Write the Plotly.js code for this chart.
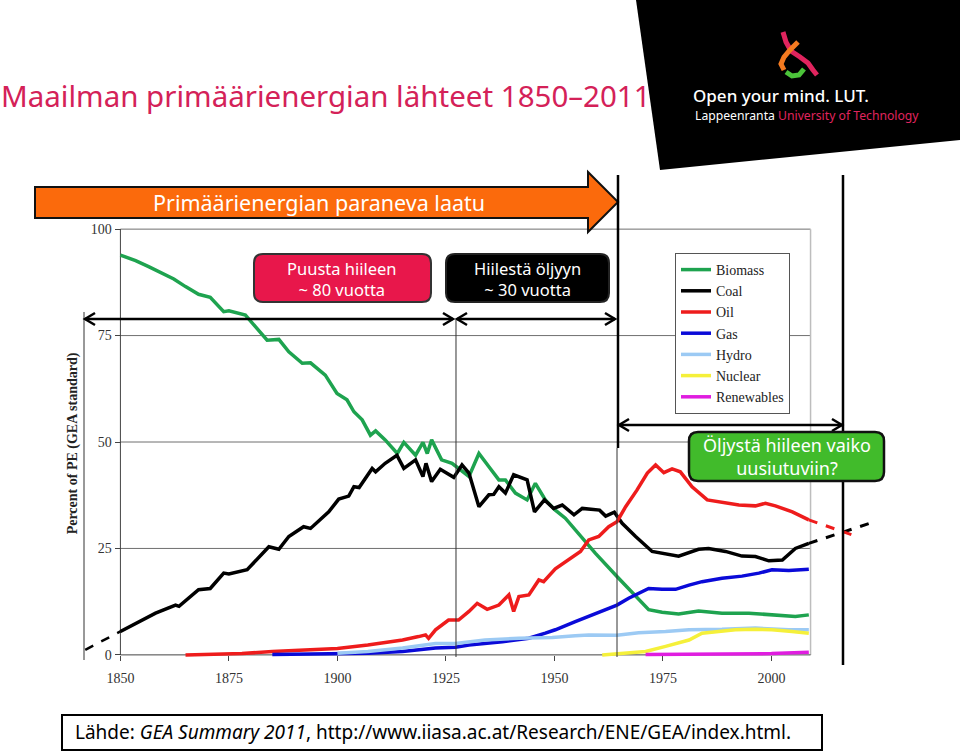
<!DOCTYPE html>
<html><head><meta charset="utf-8">
<script src="https://cdn.plot.ly/plotly-3.0.1.min.js"></script>
<style>html,body{margin:0;padding:0;background:#fff}#chart{width:960px;height:752px}</style>
</head><body><div id="chart"></div>
<script>
// ---------- DATA ----------
const seriesNames = ['Biomass','Coal','Oil','Gas','Hydro','Nuclear','Renewables'];
const seriesColors = ['#1ea34f','#000000','#ee1c1c','#0a0ad8','#9ccaf4','#f5f03a','#e01de0'];

const biomassYears = [1850,1853.5,1856.5,1859.6,1862.3,1865,1868,1870.7,1873.8,1875,1878.8,1881.1,1883.8,1886.5,1888.8,1891.9,1893.8,1897.2,1899.9,1902.2,1903.8,1905.7,1907.6,1908.8,1911,1913.8,1915.3,1918,1919.7,1920.7,1921.7,1924,1926.4,1930.3,1932.6,1934.9,1937.2,1938.7,1941,1943.7,1945.6,1947.9,1950.2,1952.5,1954.8,1959.4,1964.4,1968.7,1971.7,1974.8,1978.6,1983.2,1988.6,1994.8,2000.1,2005.5,2008.6];
const biomassPct = [93.9,92.6,91.2,89.6,88.3,86.5,84.7,84.0,80.6,80.8,79.8,77.1,73.9,74.1,71.2,68.5,68.6,65.7,61.4,59.9,57.1,55.2,51.6,52.6,50.5,47.3,49.9,46.9,49.9,47.3,50.5,45.8,45.0,41.9,47.3,44.2,41.1,41.1,38.0,36.4,40.3,36.4,34.0,32.1,29.3,23.9,18.4,13.7,10.6,10.0,9.6,10.3,9.8,9.8,9.4,9.0,9.4];

const coalYears = [1850,1853.5,1858.1,1862.7,1863.5,1868,1870.7,1873.8,1875,1879.2,1884.2,1886.5,1888.8,1892.2,1893.8,1898,1900.3,1902.6,1903.8,1905,1908,1908.8,1911,1913.7,1915.3,1918,1919.7,1920.4,1921.7,1923.7,1926.8,1928.7,1930.3,1932.6,1934.9,1936,1937.2,1938.7,1940.6,1943.7,1945.4,1947.7,1949.8,1951.8,1954.5,1956.4,1960.4,1961.8,1963.8,1965.6,1968.7,1972.5,1975.6,1978.6,1983.2,1985.5,1989.4,1993.2,1996.3,1999.4,2002.5,2005.5,2008.6];
const coalPct = [5.5,7.4,9.8,11.7,11.4,15.3,15.6,19.2,19.0,20.0,25.4,24.8,27.8,30.1,29.7,33.6,36.6,37.3,39.5,39.3,43.8,43.0,45.0,46.9,43.8,45.8,41.9,45.0,40.7,43.6,41.7,44.6,42.7,34.8,37.6,37.7,39.5,38.0,42.3,41.1,33.6,36.4,34.4,35.2,32.9,34.4,34.0,32.6,33.5,30.9,27.8,24.3,23.7,23.2,24.8,25.0,24.3,23.2,23.1,22.1,22.3,25.0,26.2];

const oilYears = [1865,1871,1878,1885,1895,1900,1907,1915,1918.7,1920.3,1921,1922.6,1925.6,1927.9,1930.3,1932.2,1934.5,1937.2,1939.5,1940.6,1941.8,1944.1,1946.4,1947.5,1950.2,1953.3,1956,1957.9,1960.2,1962.5,1964.4,1966.4,1969,1971.4,1973.3,1975.2,1977.1,1979,1981.7,1985.2,1988.6,1992.5,1996.3,1998.6,2000.9,2004.8,2008.6];
const oilPct = [0,0.2,0.3,0.8,1.3,1.5,2.3,3.5,4.3,4.7,3.9,5.9,8.2,8.2,10.2,12.1,10.7,11.7,14.1,10.2,13.7,14.1,17.6,17.2,20.2,22.5,24.3,27.0,27.8,30.1,31.3,34.8,38.7,42.7,44.6,42.8,43.7,43.0,39.5,36.4,35.8,35.2,35.0,35.6,35.0,33.6,31.7];

const gasYears = [1885,1900,1907,1915,1922.6,1927.2,1930.3,1938,1944.1,1947.9,1950.2,1954.8,1957.9,1961.8,1964.4,1967.1,1970.2,1971.7,1974.8,1977.9,1981,1984,1988.6,1993.2,1997.1,2000.1,2004,2008.6];
const gasPct = [0.1,0.3,0.4,0.8,1.6,1.8,2.3,3.1,3.9,5.1,5.9,7.8,9.0,10.6,11.7,13.3,14.9,15.6,15.4,15.4,16.4,17.2,18.0,18.5,19.2,20.0,19.8,20.1];

const hydroYears = [1900,1907,1915,1922.6,1927.2,1934,1941.8,1949.5,1954.8,1957.9,1964.4,1969.4,1975.6,1981,1988.6,1996.3,2004,2008.6];
const hydroPct = [0.4,0.8,1.6,2.7,2.7,3.5,3.9,4.1,4.5,4.7,4.6,5.2,5.5,5.9,6.0,6.3,5.9,5.9];

const nuclearYears = [1961,1971,1975.6,1981,1984,1987.1,1991.7,1996.3,2000.1,2004.7,2008.6];
const nuclearPct = [0,0.8,2.0,3.5,5.1,5.5,5.9,6.0,5.9,5.5,5.1];

const renewYears = [1971,1990,2000,2008.6];
const renewPct = [0.1,0.2,0.3,0.6];

// dashed trend extensions
const coalPastYears = [1841.9,1850];
const coalPastPct = [1.2,5.5];
const coalFutureYears = [2008.6,2023.5];
const coalFuturePct = [26.2,31.2];
const oilFutureYears = [2008.6,2020];
const oilFuturePct = [31.7,27.7];

const xTickVals = [1850,1875,1900,1925,1950,1975,2000];
const yTickVals = [0,25,50,75,100];
const gridVals = [25,50,75,100];
const dataStart = 1850, dataEnd = 2009;

// ---------- LAYOUT HELPERS ----------
const W = 960, H = 752;
const M = {l:77, r:80, t:227, b:92};
const PW = W - M.l - M.r, PH = H - M.t - M.b;
const px = x => (x - M.l) / PW;
const py = y => (H - M.b - y) / PH;
const path = pts => pts.map((p,i)=>(i?'L':'M')+px(p[0]).toFixed(5)+','+py(p[1]).toFixed(5)).join(' ');
function roundRect(x0,y0,x1,y1,r){
  const P=(x,y)=>px(x).toFixed(5)+','+py(y).toFixed(5);
  return 'M'+P(x0+r,y0)+' L'+P(x1-r,y0)+' Q'+P(x1,y0)+' '+P(x1,y0+r)+
    ' L'+P(x1,y1-r)+' Q'+P(x1,y1)+' '+P(x1-r,y1)+' L'+P(x0+r,y1)+
    ' Q'+P(x0,y1)+' '+P(x0,y1-r)+' L'+P(x0,y0+r)+' Q'+P(x0,y0)+' '+P(x0+r,y0)+' Z';
}
const pshape = (p, color, width, fill, dash) => ({type:'path', xref:'paper', yref:'paper', path:p,
  line:{color:color, width:width, dash:dash||'solid'}, fillcolor:fill||'rgba(0,0,0,0)', layer:'above'});
function dblArrow(x0,x1,y){
  return [
    pshape(path([[x0,y],[x1,y]]),'#000',2.5),
    pshape(path([[x0+10,y-6],[x0,y],[x0+10,y+6]]),'#000',2.5),
    pshape(path([[x1-10,y-6],[x1,y],[x1-10,y+6]]),'#000',2.5)
  ];
}

// ---------- TRACES ----------
const seriesX = [biomassYears,coalYears,oilYears,gasYears,hydroYears,nuclearYears,renewYears];
const seriesY = [biomassPct,coalPct,oilPct,gasPct,hydroPct,nuclearPct,renewPct];
const traces = seriesNames.map((n,i)=>({
  type:'scatter', mode:'lines', name:n, x:seriesX[i], y:seriesY[i],
  line:{color:seriesColors[i], width:3.5}, hoverinfo:'x+y+name'
}));
traces.push({type:'scatter',mode:'lines',x:coalPastYears,y:coalPastPct,showlegend:false,line:{color:'#000',width:2.5,dash:'dash'}});
traces.push({type:'scatter',mode:'lines',x:coalFutureYears,y:coalFuturePct,showlegend:false,line:{color:'#000',width:3,dash:'dash'}});
traces.push({type:'scatter',mode:'lines',x:oilFutureYears,y:oilFuturePct,showlegend:false,line:{color:'#ee1c1c',width:3,dash:'dash'}});

// ---------- SHAPES ----------
const shapes = [];
gridVals.forEach(v=>shapes.push({type:'line',xref:'x',yref:'y',x0:dataStart,x1:dataEnd,y0:v,y1:v,line:{color:'#6f6f6f',width:1},layer:'below'}));
shapes.push({type:'line',xref:'x',yref:'y',x0:dataEnd,x1:dataEnd,y0:0,y1:100,line:{color:'#bdbdbd',width:1.5},layer:'below'});
shapes.push({type:'line',xref:'x',yref:'y',x0:dataStart,x1:dataStart,y0:0,y1:100,line:{color:'#444',width:1},layer:'below'});
shapes.push({type:'line',xref:'x',yref:'y',x0:dataStart,x1:dataEnd,y0:0,y1:0,line:{color:'#444',width:1},layer:'below'});

// logo block
shapes.push(pshape(path([[636,0],[960,0],[960,140],[660,170]])+' Z','#000',0,'#000'));
shapes.push(pshape(path([[783,32],[786,42],[791,51],[800,57],[808,63],[813,70],[817,75]]),'#e0245e',5));
shapes.push(pshape(path([[798,42],[790,50],[784,57],[781,64],[784,70]]),'#f47a20',5));
shapes.push(pshape(path([[786,72],[792,76],[799,75],[804,69]]),'#4cc43a',5));

// orange arrow
shapes.push(pshape(path([[35,187],[588,187],[588,172],[618,202],[588,232],[588,218],[35,218]])+' Z','#111',2,'#fb6a0c'));

// vertical marker lines
shapes.push(pshape(path([[618,175],[618,448]]),'#000',2.5));
shapes.push(pshape(path([[617,448],[617,657]]),'#333',1));
shapes.push(pshape(path([[456,320],[456,657]]),'#333',1));
shapes.push(pshape(path([[84,312],[84,660]]),'#333',1));
shapes.push(pshape(path([[843,175],[843,665]]),'#000',2.5));

// double arrows
shapes.push(...dblArrow(85,453,319));
shapes.push(...dblArrow(457,615,319));
shapes.push(...dblArrow(619,842,425));

// boxes
shapes.push(pshape(roundRect(254,254,431,302,9),'#333',2,'#e8174b'));
shapes.push(pshape(roundRect(446,254,609,302,9),'#222',2,'#000'));
shapes.push(pshape(roundRect(689,432,884,481,9),'#111',2.5,'#41bb2b'));
shapes.push(pshape(path([[62,715],[822,715],[822,750],[62,750]])+' Z','#000',2,'#fff'));

// ---------- ANNOTATIONS ----------
const sans = 'Noto Sans, Open Sans, sans-serif';
const ann = (x,y,text,opts)=>Object.assign({xref:'paper',yref:'paper',x:px(x),y:py(y),text:text,showarrow:false,
  xanchor:'center',yanchor:'middle',font:{family:sans,size:16,color:'#fff'}},opts||{});
const annotations = [
  ann(-1,95,'Maailman primäärienergian lähteet 1850–2011',{xanchor:'left',font:{family:sans,size:29.5,color:'#d42158'}}),
  ann(691,95,'Open your mind. LUT.',{xanchor:'left',font:{family:sans,size:17,color:'#fff',weight:500}}),
  ann(693,115,'Lappeenranta <span style="color:#e0245e">University of Technology</span>',{xanchor:'left',font:{family:sans,size:12.2,color:'#fff'}}),
  ann(319,203,'Primäärienergian paraneva laatu',{font:{family:sans,size:21.5,color:'#fff'}}),
  ann(342,279,'Puusta hiileen<br>~ 80 vuotta',{font:{family:sans,size:16.5,color:'#fff'}}),
  ann(527,279,'Hiilestä öljyyn<br>~ 30 vuotta',{font:{family:sans,size:16.5,color:'#fff'}}),
  ann(787,456,'Öljystä hiileen vaiko<br>uusiutuviin?',{font:{family:sans,size:18,color:'#fff'}}),
  ann(73,732,'Lähde: <i>GEA Summary 2011</i>, http://www.iiasa.ac.at/Research/ENE/GEA/index.html.',{xanchor:'left',font:{family:sans,size:19,color:'#000'}})
];

const serif = 'Liberation Serif, Times New Roman, serif';
const layout = {
  width:W, height:H, autosize:false, margin:M,
  paper_bgcolor:'#fff', plot_bgcolor:'#fff',
  showlegend:true,
  legend:{x:px(675), y:py(253), xanchor:'left', yanchor:'top', bgcolor:'#fff', bordercolor:'#555', borderwidth:1,
    font:{family:serif,size:14,color:'#222'}, itemwidth:30, tracegroupgap:0},
  xaxis:{range:[1840,2025], anchor:'free', position:py(655), tickvals:xTickVals, ticks:'outside', ticklen:5, tickcolor:'#444',
    ticklabelstandoff:5,
    showgrid:false, zeroline:false, showline:false, tickfont:{family:serif,size:14,color:'#333'}, fixedrange:true},
  yaxis:{range:[-1.2,100.5], anchor:'free', position:px(120.5), side:'left', tickvals:yTickVals, ticks:'outside', ticklen:6, tickcolor:'#444',
    showgrid:false, zeroline:false, showline:false, tickfont:{family:serif,size:14,color:'#333'}, fixedrange:true,
    title:{text:'<b>Percent of PE (GEA standard)</b>', font:{family:serif,size:14,color:'#222'}, standoff:8}},
  shapes:shapes, annotations:annotations
};
Plotly.newPlot('chart', traces, layout, {displayModeBar:false, staticPlot:true});
</script>
</body></html>
